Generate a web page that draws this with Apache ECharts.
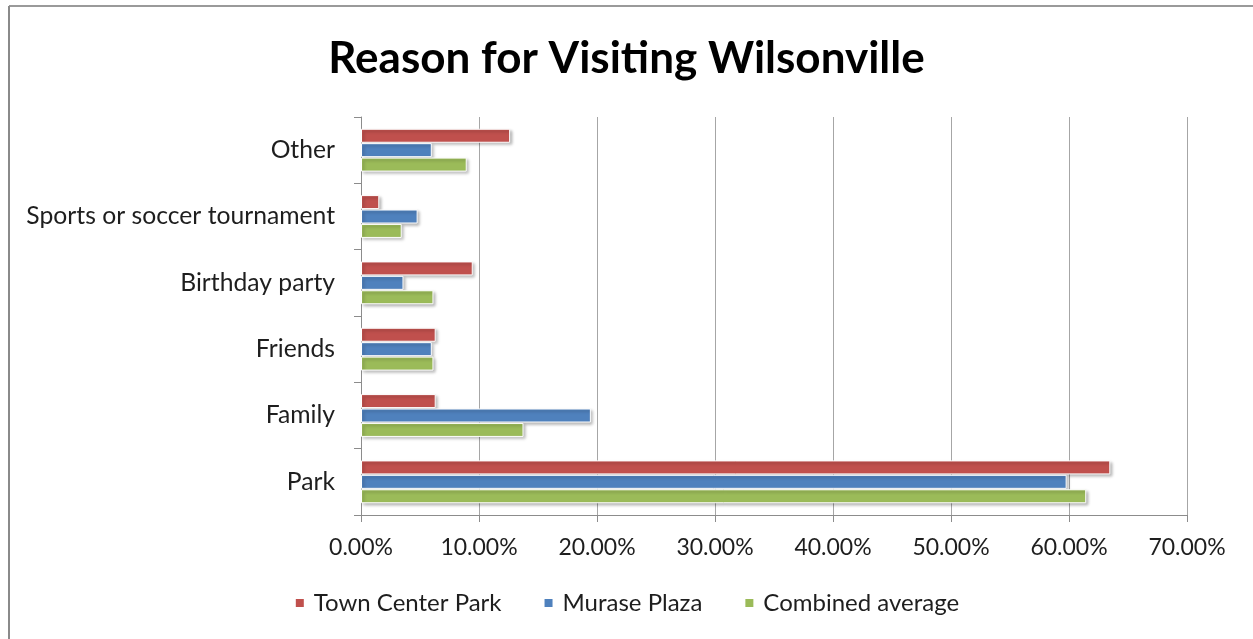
<!DOCTYPE html>
<html>
<head>
<meta charset="utf-8">
<style>
  html, body { margin: 0; padding: 0; background: #fff; }
  #chart { width: 1253px; height: 639px; }
</style>
<script src="https://cdn.jsdelivr.net/npm/echarts@6/dist/echarts.min.js"></script>
</head>
<body>
<div id="chart"></div>
<script>
// Reasons listed bottom to top on the category axis
const categories = ['Park', 'Family', 'Friends', 'Birthday party', 'Sports or soccer tournament', 'Other'];

// Share of visitors (%) for each reason, same order as categories
const townCenterPark = [63.5, 6.33, 6.33, 9.47, 1.55, 12.64];
const murasePlaza = [59.8, 19.48, 6.0, 3.6, 4.8, 6.0];
const combinedAverage = [61.46, 13.77, 6.14, 6.14, 3.45, 8.96];

const xTicks = { min: 0, max: 70, interval: 10 };

const FONT = 'Lato, "Open Sans", sans-serif';

const barStyle = (color) => ({
  color: color,
  borderColor: '#ffffff',
  borderWidth: 1,
  shadowColor: 'rgba(0,0,0,0.3)',
  shadowBlur: 3,
  shadowOffsetX: 2,
  shadowOffsetY: 2
});

const chart = echarts.init(document.getElementById('chart'), null, { renderer: 'canvas' });

chart.setOption({
  animation: false,
  backgroundColor: '#ffffff',
  title: {
    text: 'Reason for Visiting Wilsonville',
    left: 'center',
    top: 32,
    textStyle: { fontFamily: FONT, fontWeight: 'bold', fontSize: 44, color: '#000' }
  },
  legend: {
    data: ['Town Center Park', 'Murase Plaza', 'Combined average'],
    bottom: 19,
    left: 'center',
    icon: 'rect',
    itemWidth: 10,
    itemHeight: 10,
    itemGap: 41,
    textStyle: { fontFamily: FONT, fontSize: 24, color: '#1e1e1e', padding: [0, 0, 0, 4] }
  },
  grid: { left: 361, right: 66, top: 117, bottom: 124, containLabel: false },
  xAxis: {
    type: 'value',
    min: xTicks.min,
    max: xTicks.max,
    interval: xTicks.interval,
    axisLine: { show: true, lineStyle: { color: '#8c8c8c', width: 1 } },
    axisTick: { show: true, length: 7, lineStyle: { color: '#8c8c8c' } },
    axisLabel: {
      formatter: (v) => v.toFixed(2) + '%',
      fontFamily: FONT, fontSize: 23, color: '#1e1e1e', margin: 21
    },
    splitLine: { show: true, lineStyle: { color: '#a6a6a6', width: 1 } }
  },
  yAxis: {
    type: 'category',
    data: categories,
    axisLine: { show: true, lineStyle: { color: '#8c8c8c', width: 1 } },
    axisTick: { show: true, length: 7, lineStyle: { color: '#8c8c8c' } },
    axisLabel: { fontFamily: FONT, fontSize: 24.7, color: '#1e1e1e', margin: 26 },
    splitLine: { show: false }
  },
  series: [
    { name: 'Town Center Park', type: 'bar', data: townCenterPark, barWidth: 14, barGap: '3%', itemStyle: barStyle('#C0504D') },
    { name: 'Murase Plaza', type: 'bar', data: murasePlaza, barWidth: 14, barGap: '3%', itemStyle: barStyle('#4F81BD') },
    { name: 'Combined average', type: 'bar', data: combinedAverage, barWidth: 14, barGap: '3%', itemStyle: barStyle('#9BBB59') }
  ],
  graphic: [
    { type: 'line', shape: { x1: 9, y1: 6, x2: 1253, y2: 6 }, style: { stroke: '#9a9a9a', lineWidth: 2 } },
    { type: 'line', shape: { x1: 9, y1: 6, x2: 9, y2: 639 }, style: { stroke: '#8a8a8a', lineWidth: 2 } }
  ]
});
</script>
</body>
</html>
